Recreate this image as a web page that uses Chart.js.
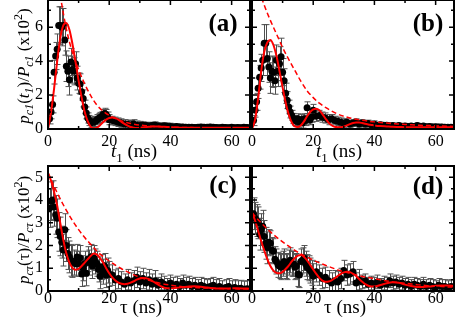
<!DOCTYPE html>
<html lang="en">
<head>
<meta charset="UTF-8">
<title>Decay panels</title>
<script src="https://cdn.jsdelivr.net/npm/chart.js"></script>
<style>
  html, body { margin: 0; padding: 0; background: #fff; overflow: hidden; }
  .wrap { position: relative; width: 463px; height: 324px; }
  .wrap canvas { position: absolute; left: 0; top: 0; }
</style>
</head>
<body>
<div class="wrap">
  <canvas id="pa" width="463" height="324"></canvas>
  <canvas id="pb" width="463" height="324"></canvas>
  <canvas id="pc" width="463" height="324"></canvas>
  <canvas id="pd" width="463" height="324"></canvas>
</div>
<script>
// measured points (ns)
const tData = [0.5,1,1.5,2,2.5,3,3.5,4,4.5,5,5.5,6,6.5,7,7.5,8,8.5,9,9.5,10,10.5,11,11.5,12,12.5,13,13.5,14,14.5,15,15.5,16,16.5,17,17.5,18,18.5,19,19.5,20,
  21,22,23,24,25,26,27,28,29,30,31,32,33,34,35,36,37,38,39,40,41,42,43,44,45,46,47,48,49,50,51,52,53,54,55,56,57,58,59,60,61,62,63,64,65];

const valA = [0.6,1.0,1.45,3.35,4.3,4.7,6.1,6.1,6.0,6.1, 5.25,3.7,3.4,2.9,3.95,3.5,3.4,3.85,3.0,2.7, 2.65,2.2,1.8,1.3,0.95,0.65,0.5,0.4,0.38,0.42, 0.45,0.55,0.62,0.68,0.72,0.85,0.92,0.85,0.7,0.55,
  0.5,0.45,0.4,0.35,0.3,0.28,0.25,0.3,0.22,0.2, 0.22,0.2,0.18,0.2,0.22,0.17,0.15,0.18,0.15,0.14, 0.13,0.15,0.12,0.12,0.1,0.11,0.1,0.09,0.1,0.12, 0.1,0.1,0.12,0.1,0.09,0.08,0.1,0.09,0.08,0.1, 0.08,0.09,0.08,0.1,0.09];
const errA = [0.3,0.4,0.5,0.7,0.8,0.9,1.1,1.1,1.1,1.0, 0.9,0.9,0.9,0.9,0.8,0.8,0.8,0.7,0.7,0.6, 0.6,0.5,0.5,0.4,0.35,0.3,0.3,0.3,0.3,0.3, 0.3,0.3,0.3,0.3,0.3,0.3,0.3,0.3,0.3,0.3,
  0.25,0.25,0.25,0.25,0.25,0.25,0.25,0.25,0.25,0.25, 0.2,0.2,0.2,0.2,0.2,0.2,0.2,0.2,0.2,0.2, 0.15,0.15,0.15,0.15,0.15,0.15,0.15,0.15,0.15,0.15, 0.15,0.15,0.15,0.15,0.15,0.15,0.15,0.15,0.15,0.15, 0.15,0.15,0.15,0.15,0.15];

const valB = [0.5,1.1,1.6,2.4,3.05,3.6,4.05,5.05,5.05,4.15, 3.65,3.0,3.4,3.35,2.85,4.05,3.4,3.85,4.25,3.35, 2.85,2.1,1.7,1.3,1.0,0.8,0.62,0.5,0.45,0.6, 0.4,0.55,0.35,0.6,0.5,1.25,0.6,0.55,0.7,1.1,
  0.75,0.8,0.7,0.65,0.55,0.6,0.5,0.45,0.4,0.35, 0.4,0.3,0.35,0.4,0.3,0.35,0.3,0.32,0.25,0.28, 0.22,0.25,0.2,0.22,0.18,0.2,0.16,0.2,0.15,0.18, 0.15,0.17,0.14,0.2,0.15,0.17,0.13,0.15,0.12,0.13, 0.12,0.12,0.1,0.11,0.1];
const errB = [0.3,0.4,0.5,0.6,0.7,0.8,0.9,1.1,1.1,1.0, 0.9,0.9,0.9,0.9,0.8,0.9,0.9,1.0,1.1,0.8, 0.7,0.6,0.5,0.4,0.35,0.3,0.3,0.3,0.3,0.3, 0.3,0.3,0.3,0.3,0.3,0.35,0.3,0.3,0.3,0.35,
  0.3,0.3,0.3,0.3,0.3,0.25,0.25,0.25,0.25,0.25, 0.2,0.2,0.2,0.2,0.2,0.2,0.2,0.2,0.2,0.2, 0.15,0.15,0.15,0.15,0.15,0.15,0.15,0.15,0.15,0.15, 0.15,0.15,0.15,0.15,0.15,0.15,0.15,0.15,0.15,0.15, 0.15,0.15,0.15,0.15,0.15];

const valC = [3.65,3.95,4.0,3.7,3.35,3.2,2.6,2.4,2.15,1.8, 2.7,2.0,1.65,1.5,1.35,1.3,1.25,1.2,1.5,1.2, 1.45,0.75,1.0,1.2,0.78,1.4,1.25,1.5,1.1,1.45, 1.3,1.2,0.95,0.65,1.05,0.85,1.1,0.7,0.9,0.75,
  0.7,0.48,0.55,0.4,0.3,0.5,0.35,0.45,0.6,0.4, 0.55,0.35,0.5,0.3,0.45,0.25,0.4,0.3,0.2,0.35, 0.25,0.3,0.2,0.35,0.25,0.3,0.2,0.25,0.15,0.25, 0.2,0.15,0.2,0.25,0.15,0.2,0.1,0.15,0.2,0.1, 0.15,0.1,0.12,0.08,0.1];
const errC = [0.85,0.85,0.85,0.85,0.85,0.85,0.85,0.85,0.7,0.7, 0.7,0.7,0.7,0.7,0.7,0.7,0.55,0.55,0.55,0.55, 0.55,0.55,0.55,0.55,0.55,0.55,0.55,0.55,0.55,0.55, 0.55,0.55,0.55,0.55,0.55,0.55,0.55,0.55,0.55,0.55,
  0.45,0.45,0.45,0.45,0.45,0.45,0.45,0.45,0.45,0.45, 0.45,0.45,0.45,0.45,0.45,0.35,0.35,0.35,0.35,0.35, 0.35,0.35,0.35,0.35,0.35,0.35,0.35,0.35,0.35,0.35, 0.35,0.35,0.35,0.35,0.35,0.35,0.35,0.35,0.35,0.35, 0.35,0.35,0.35,0.35,0.35];

const valD = [3.4,3.2,3.1,3.0,2.5,2.7,2.85,2.4,2.1,1.9, 2.15,2.1,1.8,1.75,1.4,1.3,1.15,1.1,1.05,1.2, 1.3,1.1,1.05,1.25,1.35,1.2,1.2,1.05,1.1,0.75, 0.7,1.3,1.35,1.45,1.2,1.05,1.0,0.9,0.8,0.65,
  0.85,0.7,0.55,0.6,0.45,0.35,0.45,0.4,0.55,0.9, 0.7,0.75,0.85,0.35,0.5,0.4,0.45,0.3,0.35,0.3, 0.4,0.25,0.35,0.3,0.45,0.35,0.4,0.3,0.35,0.25, 0.3,0.2,0.3,0.25,0.2,0.3,0.2,0.25,0.2,0.15, 0.25,0.2,0.2,0.15,0.2];
const errD = [0.7,0.7,0.7,0.7,0.7,0.7,0.7,0.7,0.7,0.7, 0.55,0.55,0.55,0.55,0.55,0.55,0.55,0.55,0.55,0.55, 0.55,0.55,0.55,0.55,0.55,0.55,0.55,0.55,0.55,0.55, 0.55,0.55,0.55,0.55,0.55,0.55,0.55,0.55,0.55,0.55,
  0.45,0.45,0.45,0.45,0.45,0.45,0.45,0.45,0.45,0.45, 0.45,0.45,0.45,0.45,0.45,0.3,0.3,0.3,0.3,0.3, 0.3,0.3,0.3,0.3,0.3,0.3,0.3,0.3,0.3,0.3, 0.3,0.3,0.3,0.3,0.3,0.3,0.3,0.3,0.3,0.3, 0.3,0.3,0.3,0.3,0.3];

// fitted curves (solid) and envelopes (dashed)
const fitT = [0,1,2,3,4,5,6,7,8,9,10,11,12,13,14,15,16,17,18,19,20,21,22,23,24,25,26,27,28,29,30,31,32,33,34,35,36,37,38,39,40,
  42,44,46,48,50,52,54,56,58,60,62,64,66];
const fitA = [0,1.0,2.4,4.0,5.35,6.1,6.25,5.85,5.0,3.95, 2.85,1.85,1.0,0.45,0.12,0.03,0.08,0.22,0.4,0.55, 0.65,0.68,0.64,0.55,0.42,0.3,0.2,0.12,0.08,0.06, 0.07,0.09,0.11,0.13,0.14,0.15,0.15,0.14,0.13,0.12, 0.11,
  0.09,0.08,0.08,0.08,0.08,0.08,0.07,0.07,0.07,0.07,0.07,0.07,0.07];
const fitB = [0,0.55,1.8,3.4,4.55,5.1,5.25,4.95,4.3,3.4, 2.45,1.55,0.85,0.38,0.15,0.12,0.22,0.45,0.75,1.0, 1.15,1.2,1.1,0.88,0.62,0.38,0.22,0.13,0.1,0.1, 0.14,0.21,0.29,0.35,0.38,0.38,0.35,0.31,0.27,0.24, 0.21,
  0.17,0.15,0.13,0.12,0.11,0.11,0.1,0.1,0.1,0.1,0.1,0.1,0.1];
const fitC = [5.2,4.85,4.35,3.75,3.0,2.25,1.65,1.25,1.02,0.93, 0.98,1.1,1.25,1.4,1.55,1.65,1.6,1.45,1.25,1.0, 0.78,0.6,0.46,0.37,0.32,0.3,0.32,0.37,0.43,0.5, 0.55,0.57,0.56,0.52,0.45,0.37,0.28,0.2,0.14,0.12, 0.12,
  0.14,0.17,0.2,0.21,0.19,0.15,0.12,0.11,0.11,0.12,0.12,0.11,0.1];
const fitD = [3.45,3.1,2.65,2.2,1.78,1.4,1.1,0.9,0.8,0.78, 0.84,0.97,1.12,1.3,1.45,1.56,1.58,1.5,1.35,1.15, 0.95,0.75,0.58,0.46,0.41,0.42,0.47,0.56,0.66,0.75, 0.82,0.85,0.83,0.76,0.66,0.53,0.41,0.3,0.23,0.2, 0.2,
  0.26,0.34,0.38,0.36,0.28,0.22,0.18,0.18,0.2,0.23,0.24,0.24,0.22];

const envT = [0,2,4,6,8,10,12,14,16,18,20,22,24,26,28,30,32,34,36,38,40,42,44,46,48,50,52,54,56,58,60,62,64,66];
const envA = [14,10.5,7.9,5.9,4.5,3.5,2.65,1.95,1.4,1.05, 0.8,0.62,0.48,0.37,0.29,0.23,0.19,0.16,0.14,0.12, 0.11,0.1,0.09,0.09,0.08,0.08,0.08,0.08,0.07,0.07, 0.07,0.07,0.07,0.07];
const envB = [10.5,8.4,7.3,6.4,5.6,4.8,4.1,3.45,2.8,2.25, 1.85,1.52,1.27,1.06,0.88,0.75,0.65,0.57,0.51,0.46, 0.42,0.38,0.35,0.32,0.29,0.27,0.25,0.23,0.21,0.2, 0.18,0.17,0.16,0.15];
const envC = [5.2,4.6,4.05,3.55,3.1,2.7,2.35,2.05,1.75,1.52, 1.32,1.14,0.98,0.84,0.71,0.6,0.51,0.43,0.36,0.3, 0.26,0.22,0.19,0.17,0.15,0.14,0.13,0.12,0.11,0.1, 0.1,0.09,0.09,0.08];
const envD = [3.45,3.14,2.86,2.6,2.37,2.16,1.97,1.79,1.63,1.49, 1.36,1.24,1.13,1.03,0.93,0.85,0.78,0.71,0.64,0.59, 0.54,0.49,0.44,0.4,0.37,0.34,0.31,0.28,0.25,0.23, 0.21,0.2,0.18,0.17];

// tick labels
const xLabels = ['0', '20', '40', '60'];
const yLabelsTop = ['0', '2', '4', '6'];
const yLabelsBottom = ['0', '1', '2', '3', '4', '5'];

const FONT = 'Liberation Serif';
Chart.defaults.font.family = FONT;
Chart.defaults.color = '#000';

// rich text: [text, flags]  i=italic b=bold s=subscript u=superscript
function drawRich(ctx, segs, cx, cy, size, rotate) {
    ctx.save();
    ctx.translate(cx, cy);
    if (rotate) ctx.rotate(-Math.PI / 2);
    const fontOf = f => (f.includes('i') ? 'italic ' : '') + (f.includes('b') ? 'bold ' : '') +
        Math.round(size * (f.includes('s') || f.includes('u') ? 0.68 : 1)) + 'px "' + FONT + '"';
    let w = 0;
    segs.forEach(([t, f]) => { ctx.font = fontOf(f); w += ctx.measureText(t).width; });
    let x = -w / 2;
    ctx.fillStyle = '#000';
    ctx.textBaseline = 'alphabetic';
    segs.forEach(([t, f]) => {
        ctx.font = fontOf(f);
        const dy = f.includes('s') ? size * 0.22 : f.includes('u') ? -size * 0.38 : 0;
        ctx.fillText(t, x, size * 0.34 + dy);
        x += ctx.measureText(t).width;
    });
    ctx.restore();
}

function panelPlugin(p) {
    return {
        id: 'panel_' + p.id,
        beforeDatasetsDraw(chart) {
            // error bars
            const { ctx, chartArea: a, scales: { x, y } } = chart;
            ctx.save();
            ctx.beginPath();
            ctx.rect(a.left, a.top, a.right - a.left, a.bottom - a.top);
            ctx.clip();
            ctx.strokeStyle = '#505050';
            ctx.lineWidth = 1;
            p.t.forEach((t, i) => {
                const px = Math.round(x.getPixelForValue(t)) + 0.5;
                const hi = y.getPixelForValue(p.v[i] + p.e[i]);
                const lo = y.getPixelForValue(p.v[i] - p.e[i]);
                ctx.beginPath();
                ctx.moveTo(px, hi); ctx.lineTo(px, lo);
                ctx.moveTo(px - 3, hi); ctx.lineTo(px + 3, hi);
                ctx.moveTo(px - 3, lo); ctx.lineTo(px + 3, lo);
                ctx.stroke();
            });
            ctx.restore();
        },
        afterDraw(chart) {
            const { ctx, chartArea: a, scales: { x, y } } = chart;
            ctx.save();
            ctx.strokeStyle = '#000';
            ctx.lineWidth = 1.5;
            ctx.beginPath();
            x.ticks.forEach(tk => {
                const px = x.getPixelForValue(tk.value);
                const len = tk.value % 20 === 0 ? 5 : 3;
                ctx.moveTo(px, a.bottom); ctx.lineTo(px, a.bottom - len);
                ctx.moveTo(px, a.top); ctx.lineTo(px, a.top + len);
            });
            y.ticks.forEach(tk => {
                const py = y.getPixelForValue(tk.value);
                const len = tk.value % p.ymajor === 0 ? 5 : 3;
                ctx.moveTo(a.left, py); ctx.lineTo(a.left + len, py);
                ctx.moveTo(a.right, py); ctx.lineTo(a.right - len, py);
            });
            ctx.stroke();
            ctx.lineWidth = 2;
            ctx.strokeRect(a.left, a.top, a.right - a.left, a.bottom - a.top);
            ctx.restore();

            drawRich(ctx, p.xTitle, p.xTitlePos[0], p.xTitlePos[1], 19, false);
            if (p.yTitle) drawRich(ctx, p.yTitle, p.yTitlePos[0], p.yTitlePos[1], 17, true);
            drawRich(ctx, [[p.tag, 'b']], p.tagPos[0], p.tagPos[1], 25, false);
        }
    };
}

const titleT1 = [['t', 'i'], ['1', 's'], [' (ns)', '']];
const titleTau = [['\u03c4 (ns)', '']];
const yTitleTop = [['p', 'i'], ['c1', 'is'], ['(', ''], ['t', 'i'], ['1', 'is'], [')/', ''], ['P', 'i'], ['c1', 'is'], [' (x10', ''], ['2', 'u'], [')', '']];
const yTitleBottom = [['p', 'i'], ['c\u03c4', 'is'], ['(\u03c4)/', ''], ['P', 'i'], ['c\u03c4', 'is'], [' (x10', ''], ['2', 'u'], [')', '']];

const panels = [
    { id: 'pa', L: 48, R: 250, T: -1, B: 129, ymax: 7.6, ystep: 1, ymajor: 2, yLabels: yLabelsTop, xPad: 3,
      t: tData, v: valA, e: errA, fit: fitA, env: envA,
      xTitle: titleT1, xTitlePos: [134, 151], yTitle: yTitleTop, yTitlePos: [23, 66], tag: '(a)', tagPos: [223, 22] },
    { id: 'pb', L: 252, R: 454, T: -1, B: 129, ymax: 7.6, ystep: 1, ymajor: 2, yLabels: [], xPad: 3,
      t: tData, v: valB, e: errB, fit: fitB, env: envB,
      xTitle: titleT1, xTitlePos: [339, 151], yTitle: null, tag: '(b)', tagPos: [428, 22] },
    { id: 'pc', L: 48, R: 250, T: 166, B: 291, ymax: 5.5, ystep: 0.5, ymajor: 1, yLabels: yLabelsBottom, xPad: -2,
      t: tData, v: valC, e: errC, fit: fitC, env: envC,
      xTitle: titleTau, xTitlePos: [141, 307], yTitle: yTitleBottom, yTitlePos: [23, 230], tag: '(c)', tagPos: [223, 184] },
    { id: 'pd', L: 252, R: 454, T: 166, B: 291, ymax: 5.5, ystep: 0.5, ymajor: 1, yLabels: [], xPad: -2,
      t: tData, v: valD, e: errD, fit: fitD, env: envD,
      xTitle: titleTau, xTitlePos: [345, 307], yTitle: null, tag: '(d)', tagPos: [428, 185] }
];

const Y_W = 40, X_H = 22;

panels.forEach(p => {
    new Chart(document.getElementById(p.id), {
        type: 'scatter',
        data: {
            datasets: [
                {
                    data: fitT.map((t, i) => ({ x: t, y: p.fit[i] })),
                    showLine: true, borderColor: '#ff0000', borderWidth: 2, pointRadius: 0,
                    cubicInterpolationMode: 'monotone'
                },
                {
                    data: envT.map((t, i) => ({ x: t, y: p.env[i] })),
                    showLine: true, borderColor: '#ff0000', borderWidth: 1.5, borderDash: [5, 3], pointRadius: 0,
                    cubicInterpolationMode: 'monotone'
                },
                {
                    data: p.t.map((t, i) => ({ x: t, y: p.v[i] })),
                    pointRadius: 3.5, pointBackgroundColor: '#000', pointBorderColor: '#000', pointBorderWidth: 0
                }
            ]
        },
        options: {
            responsive: false,
            animation: false,
            events: [],
            layout: {
                autoPadding: false,
                padding: { left: p.L - Y_W, right: 463 - p.R, top: p.T, bottom: 324 - p.B - X_H }
            },
            plugins: { legend: { display: false }, tooltip: { enabled: false } },
            scales: {
                x: {
                    type: 'linear', min: 0, max: 66,
                    afterFit: s => { s.height = X_H; s.paddingLeft = 0; s.paddingRight = 0; s.paddingTop = 0; s.paddingBottom = 0; },
                    grid: { display: false, drawTicks: false },
                    border: { display: false },
                    ticks: {
                        stepSize: 10, includeBounds: false, padding: p.xPad, maxRotation: 0, autoSkip: false,
                        font: { family: FONT, size: 16 }, color: '#000',
                        callback: v => xLabels.includes(String(v)) ? String(v) : ''
                    }
                },
                y: {
                    type: 'linear', min: 0, max: p.ymax,
                    afterFit: s => { s.width = Y_W; s.paddingLeft = 0; s.paddingRight = 0; s.paddingTop = 0; s.paddingBottom = 0; },
                    grid: { display: false, drawTicks: false },
                    border: { display: false },
                    ticks: {
                        stepSize: p.ystep, includeBounds: false, padding: 5, autoSkip: false,
                        font: { family: FONT, size: 16 }, color: '#000',
                        callback: v => p.yLabels.includes(String(v)) ? String(v) : ''
                    }
                }
            }
        },
        plugins: [panelPlugin(p)]
    });
});
</script>
</body>
</html>
